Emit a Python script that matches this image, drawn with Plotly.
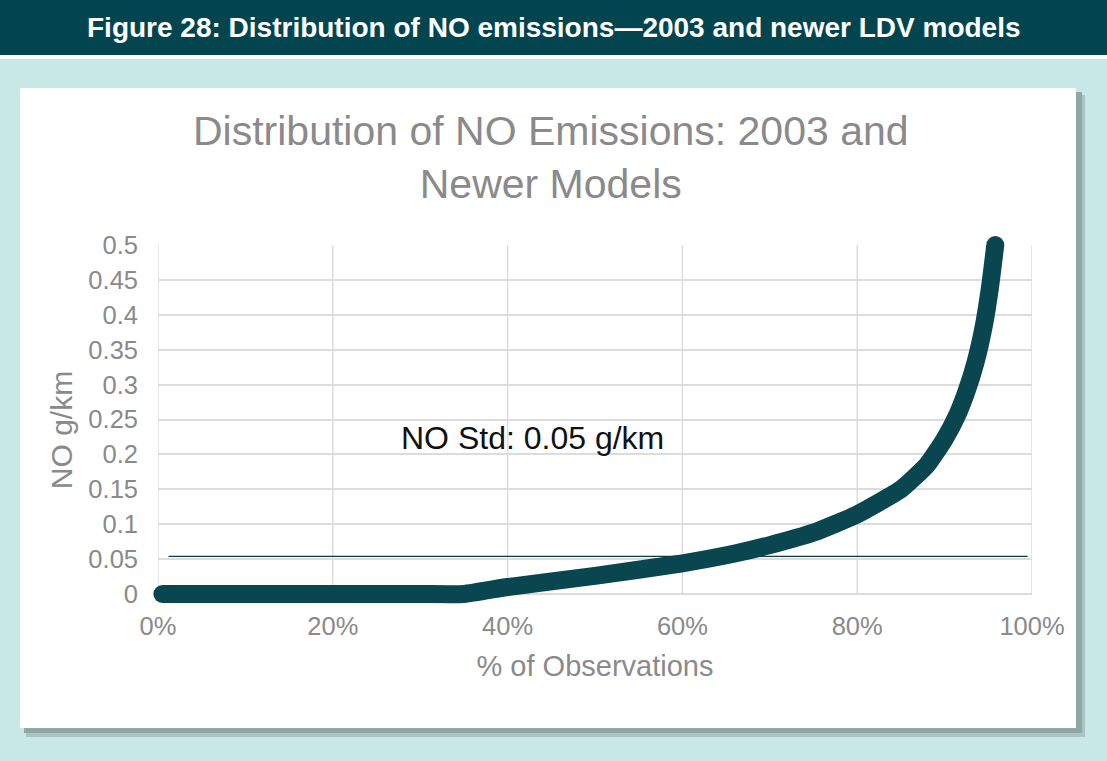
import plotly.graph_objects as go

# Data (fraction of observations, NO g/km)
pct_obs = [0.005, 0.10, 0.20, 0.30, 0.35, 0.40, 0.50, 0.60, 0.66, 0.70, 0.75, 0.80,
           0.85, 0.88, 0.90, 0.915, 0.925, 0.935, 0.945, 0.952, 0.958]
no_gkm = [0.0, 0.0, 0.0, 0.0, 0.0, 0.010, 0.026, 0.044, 0.058, 0.070, 0.088, 0.114,
          0.150, 0.185, 0.222, 0.258, 0.290, 0.330, 0.385, 0.440, 0.500]
std_x = [0.012, 0.995]
std_y = [0.054, 0.054]
y_ticks = [0, 0.05, 0.1, 0.15, 0.2, 0.25, 0.3, 0.35, 0.4, 0.45, 0.5]
y_labels = ["0", "0.05", "0.1", "0.15", "0.2", "0.25", "0.3", "0.35", "0.4", "0.45", "0.5"]
x_ticks = [0, 0.2, 0.4, 0.6, 0.8, 1.0]
x_labels = ["0%", "20%", "40%", "60%", "80%", "100%"]

W, H = 1107, 761
def px(x):
    return x / W
def py(y):
    return 1 - y / H

DARK = "#02454f"
CURVE = "#0a4650"
LIGHT = "#c8e8e5"
GRAY = "#8a8a8a"
GRID = "#dcdcdc"
FONT = "Liberation Sans, Arial"

Y_MIN = -0.03          # a little room below 0 so the thick line is not clipped
PX_PER_UNIT = 349 / 0.5
y_bottom_px = 594 + (-Y_MIN) * PX_PER_UNIT

end_sizes = [18] + [0] * (len(pct_obs) - 2) + [18]

fig = go.Figure()
fig.add_trace(go.Scatter(x=std_x, y=std_y, mode="lines",
                         line=dict(color="#0d3b40", width=1.3),
                         hoverinfo="skip", showlegend=False))
fig.add_trace(go.Scatter(x=pct_obs, y=no_gkm, mode="lines+markers",
                         line=dict(color=CURVE, width=18, shape="spline", smoothing=0.45),
                         marker=dict(color=CURVE, size=end_sizes, opacity=1, line=dict(width=0)),
                         cliponaxis=False, showlegend=False))

shapes = [
    dict(type="rect", xref="paper", yref="paper", x0=0, x1=1, y0=py(55), y1=1,
         fillcolor=DARK, line=dict(width=0), layer="below"),
    dict(type="rect", xref="paper", yref="paper", x0=0, x1=1, y0=py(59), y1=py(55),
         fillcolor="white", line=dict(width=0), layer="below"),
    dict(type="rect", xref="paper", yref="paper", x0=0, x1=1, y0=0, y1=py(59),
         fillcolor=LIGHT, line=dict(width=0), layer="below"),
    dict(type="rect", xref="paper", yref="paper", x0=px(26), x1=px(1085), y0=py(737), y1=py(95),
         fillcolor="#a9c4c2", line=dict(width=0), layer="below"),
    dict(type="rect", xref="paper", yref="paper", x0=px(24), x1=px(1082), y0=py(733), y1=py(92),
         fillcolor="#8fa8a6", line=dict(width=0), layer="below"),
    dict(type="rect", xref="paper", yref="paper", x0=px(20), x1=px(1076), y0=py(728), y1=py(88),
         fillcolor="white", line=dict(width=0), layer="below"),
]
# vertical gridlines spanning only the 0..0.5 value range
for xv in x_ticks:
    shapes.append(dict(type="line", xref="x", yref="y", x0=xv, x1=xv,
                       y0=y_ticks[0], y1=y_ticks[-1],
                       line=dict(color=GRID, width=1.5), layer="below"))

annotations = [
    dict(text="<b>Figure 28: Distribution of NO emissions\u20142003 and newer LDV models</b>",
         xref="paper", yref="paper", x=px(554), y=py(27), xanchor="center", yanchor="middle",
         showarrow=False, font=dict(family=FONT, size=28, color="white")),
    dict(text="Distribution of NO Emissions: 2003 and<br>Newer Models",
         xref="paper", yref="paper", x=px(551), y=py(157), xanchor="center", yanchor="middle",
         showarrow=False, font=dict(family=FONT, size=41, color=GRAY)),
    dict(text="NO Std: 0.05 g/km", xref="x", yref="y", x=0.428, y=0.223,
         xanchor="center", yanchor="middle", showarrow=False,
         font=dict(family=FONT, size=32, color="#111111")),
]

fig.update_layout(
    width=W, height=H,
    margin=dict(l=0, r=0, t=0, b=0, pad=0),
    paper_bgcolor=LIGHT, plot_bgcolor="rgba(0,0,0,0)",
    shapes=shapes, annotations=annotations,
    xaxis=dict(domain=[px(158), px(1032)], range=[0, 1], tickvals=x_ticks, ticktext=x_labels,
               anchor="free", position=py(594),
               automargin=False,
               showgrid=False, zeroline=False,
               showline=False, ticks="", ticklabelstandoff=14,
               tickfont=dict(family=FONT, size=25.5, color=GRAY),
               title=dict(text="% of Observations", standoff=17,
                          font=dict(family=FONT, size=29, color=GRAY))),
    yaxis=dict(domain=[py(y_bottom_px), py(245)], range=[Y_MIN, 0.5],
               tickvals=y_ticks, ticktext=y_labels,
               automargin=False,
               showgrid=True, gridcolor=GRID, gridwidth=1.5, zeroline=False,
               showline=False, ticks="", ticklabelstandoff=19,
               tickfont=dict(family=FONT, size=25.5, color=GRAY),
               title=dict(text="NO g/km", standoff=6,
                          font=dict(family=FONT, size=30, color=GRAY))),
)

fig.write_html("out.html", config={"displayModeBar": False},
               post_script="document.body.style.margin='0';document.body.style.overflow='hidden';")
